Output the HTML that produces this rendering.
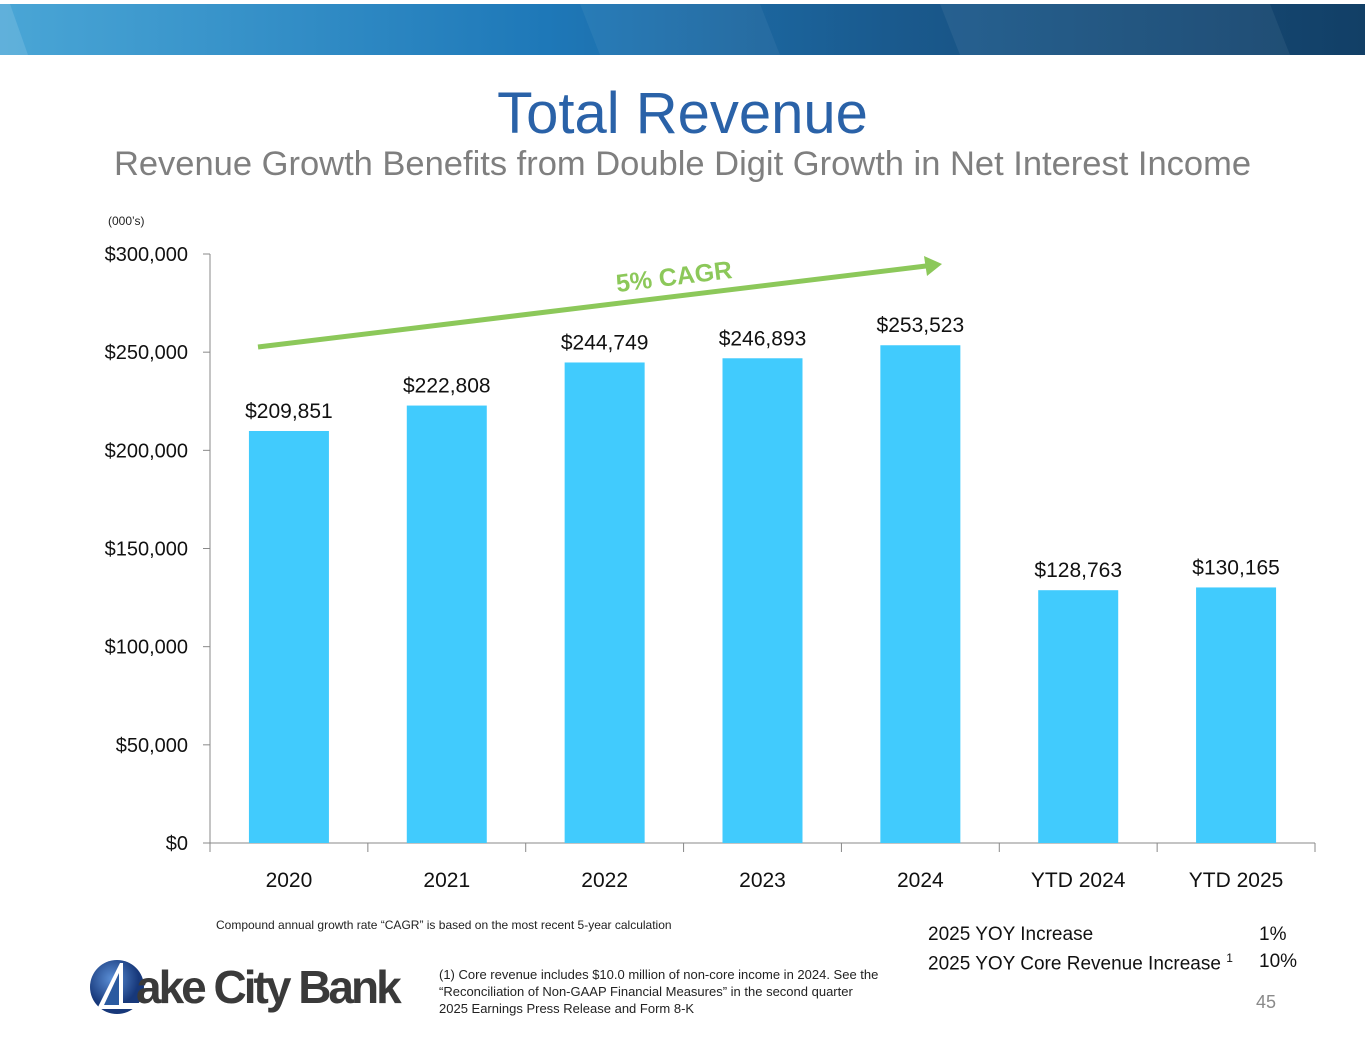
<!DOCTYPE html>
<html><head><meta charset="utf-8"><style>
body{margin:0;width:1365px;height:1055px;background:#fff;font-family:"Liberation Sans",sans-serif;overflow:hidden;position:relative}
.t{position:absolute;white-space:nowrap}
</style></head><body>
<svg style="position:absolute;left:0;top:4px" width="1365" height="51">
<defs><linearGradient id="g" x1="0" x2="1"><stop offset="0" stop-color="#4aa6d6"/><stop offset="0.4" stop-color="#1e78b8"/><stop offset="0.65" stop-color="#1a5a8e"/><stop offset="1" stop-color="#123f66"/></linearGradient></defs>
<rect width="1365" height="51" fill="url(#g)"/>
<polygon points="0,0 10,0 28,51 0,51" fill="#fff" opacity="0.12"/>
<polygon points="580,0 760,0 780,51 600,51" fill="#fff" opacity="0.05"/>
<polygon points="940,0 1270,0 1290,51 960,51" fill="#fff" opacity="0.06"/>
</svg>
<div class="t" style="left:0;width:1365px;text-align:center;top:80px;font-size:58px;color:#2a62a8">Total Revenue</div>
<div class="t" style="left:0;width:1365px;text-align:center;top:145px;font-size:34.5px;color:#7f7f7f">Revenue Growth Benefits from Double Digit Growth in Net Interest Income</div>
<div class="t" style="left:108px;top:214px;font-size:12px;color:#222">(000’s)</div>
<svg id="c" style="position:absolute;left:0;top:0" width="1365" height="910"></svg>
<div class="t" style="left:216px;top:918px;font-size:12px;color:#222">Compound annual growth rate “CAGR” is based on the most recent 5-year calculation</div>
<div class="t" style="left:928px;top:924px;font-size:19px;color:#111">2025 YOY Increase</div>
<div class="t" style="left:1259px;top:924px;font-size:19px;color:#111">1%</div>
<div class="t" style="left:928px;top:951px;font-size:19px;color:#111">2025 YOY Core Revenue Increase <sup style="font-size:12px">1</sup></div>
<div class="t" style="left:1259px;top:951px;font-size:19px;color:#111">10%</div>
<div class="t" style="left:439px;top:966px;font-size:13px;line-height:17px;color:#222">(1) Core revenue includes $10.0 million of non-core income in 2024. See the<br>“Reconciliation of Non-GAAP Financial Measures” in the second quarter<br>2025 Earnings Press Release and Form 8-K</div>
<div class="t" style="left:1256px;top:992px;font-size:18px;color:#8a8a8a">45</div>
<div style="position:absolute;left:90px;top:957px;width:330px;height:60px">
<svg width="60" height="60" style="position:absolute;left:0;top:0"><defs><radialGradient id="lg" cx="0.4" cy="0.35"><stop offset="0" stop-color="#5b8fd6"/><stop offset="1" stop-color="#17387a"/></radialGradient></defs><circle cx="27" cy="30" r="27" fill="url(#lg)"/><polygon points="8,50 30,6 33,6 33,46 52,46 52,52 8,52" fill="#fff"/><polygon points="14,48 29,16 29,48" fill="#2a5aa0"/></svg>
<div class="t" style="left:46px;top:3px;font-size:46px;font-weight:bold;color:#3a3a3a;letter-spacing:-3px">ake City Bank</div>
</div>
<script>
const categories=["2020","2021","2022","2023","2024","YTD 2024","YTD 2025"];
const values=[209851,222808,244749,246893,253523,128763,130165];
const yTicks=[0,50000,100000,150000,200000,250000,300000];
const svg=document.getElementById('c');const NS="http://www.w3.org/2000/svg";
const X0=210,X1=1315,Y0=843,Y1=254,MAX=300000;
const y=v=>Y0-(v/MAX)*(Y0-Y1);const bw=(X1-X0)/categories.length;
const xc=i=>X0+bw*(i+0.5);
function mk(t,a,txt){const e=document.createElementNS(NS,t);for(const k in a)e.setAttribute(k,a[k]);if(txt!=null)e.textContent=txt;svg.appendChild(e);return e;}
let ax=mk('path',{d:`M${X0},${Y1}V${Y0}H${X1}`,stroke:'#888',fill:'none','stroke-width':1});


yTicks.forEach(v=>{
 let l=mk('line',{x1:X0-7,x2:X0,y1:y(v),y2:y(v),stroke:'#888'});
 
 
 let t=mk('text',{x:X0-22,y:y(v)+7,'text-anchor':'end','font-size':20,fill:'#111','font-family':'Liberation Sans'},'$'+v.toLocaleString('en-US'));
 
 
});
for(let i=0;i<=categories.length;i++){let l=mk('line',{x1:X0+bw*i,x2:X0+bw*i,y1:Y0,y2:Y0+9,stroke:'#888'});
 
 }
categories.forEach((c,i)=>{
 let r=mk('rect',{x:xc(i)-40,y:y(values[i]),width:80,height:Y0-y(values[i]),fill:'#41cbfd'});
 
 
 let t=mk('text',{x:xc(i),y:y(values[i])-13,'text-anchor':'middle','font-size':21,fill:'#111','font-family':'Liberation Sans'},'$'+values[i].toLocaleString('en-US'));
 
 
 let x=mk('text',{x:xc(i),y:Y0+44,'text-anchor':'middle','font-size':21,fill:'#111','font-family':'Liberation Sans'},c);
 
 
});
let ar=mk('line',{x1:258,y1:347,x2:926,y2:266,stroke:'#8cc85a','stroke-width':5});


let ah=mk('polygon',{points:'942,264 924,256 927,276',fill:'#8cc85a'});


let ct=mk('text',{x:675,y:285,'text-anchor':'middle','font-size':25,'font-weight':'bold',fill:'#8cc85a','font-family':'Liberation Sans',transform:'rotate(-7 675 285)'},'5% CAGR');


</script>
</body></html>
